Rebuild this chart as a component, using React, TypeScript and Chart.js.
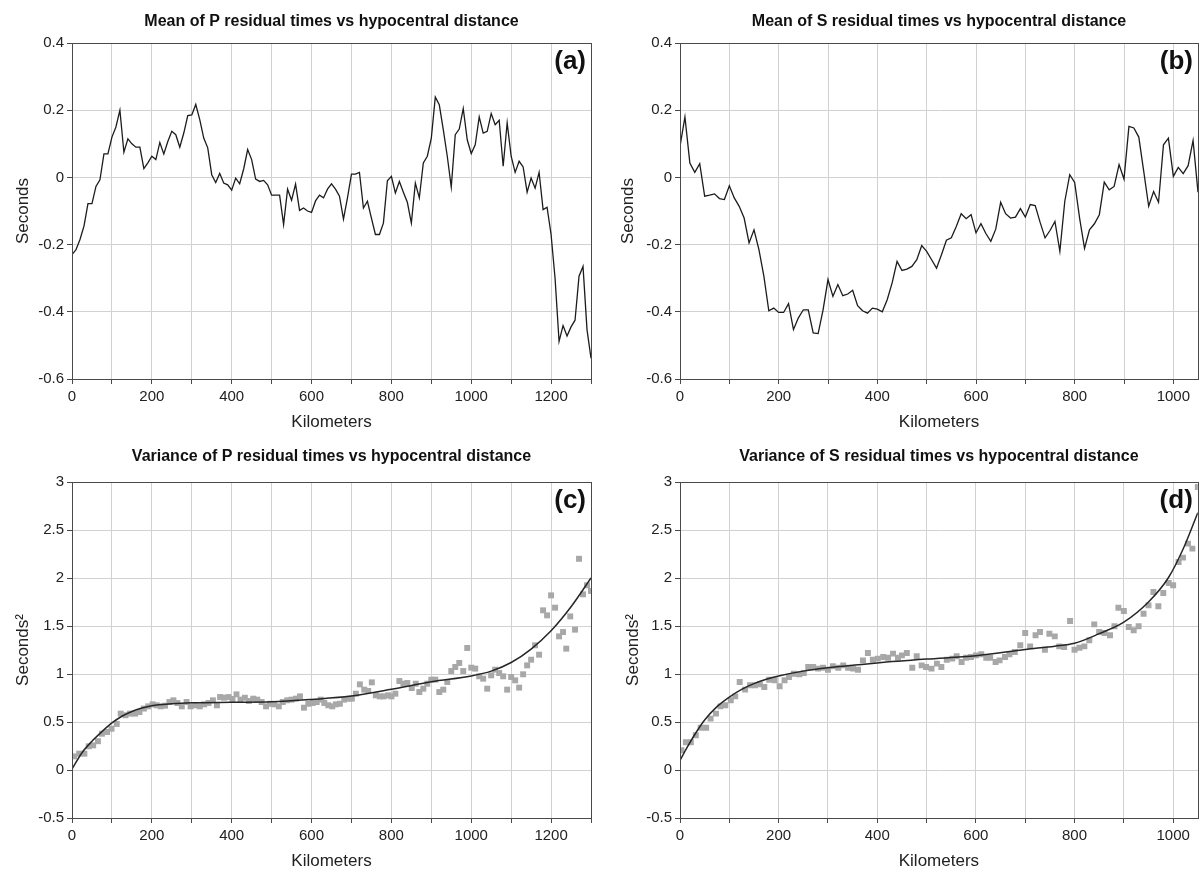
import React, { useEffect, useRef } from 'react';
import { Chart, registerables } from 'chart.js';

Chart.register(...registerables);

const FONT = '"Liberation Sans", Arial, Helvetica, sans-serif';
Chart.defaults.font.family = FONT;

// ---------- (a) Mean of P residual times ----------
const P_MEAN_KM = [0,10,20,30,40,50,60,70,80,90,100,110,120,130,140,150,160,170,180,190,200,210,220,230,240,250,260,270,280,290,300,310,320,330,340,350,360,370,380,390,400,410,420,430,440,450,460,470,480,490,500,510,520,530,540,550,560,570,580,590,600,610,620,630,640,650,660,670,680,690,700,710,720,730,740,750,760,770,780,790,800,810,820,830,840,850,860,870,880,890,900,910,920,930,940,950,960,970,980,990,1000,1010,1020,1030,1040,1050,1060,1070,1080,1090,1100,1110,1120,1130,1140,1150,1160,1170,1180,1190,1200,1210,1220,1230,1240,1250,1260,1270,1280,1290,1300];
const P_MEAN_S = [
  -0.23,-0.215,-0.185,-0.145,-0.078,-0.078,-0.027,-0.007,0.07,0.07,
  0.12,0.15,0.2,0.075,0.115,0.1,0.09,0.09,0.026,0.043,
  0.063,0.053,0.104,0.07,0.107,0.137,0.127,0.09,0.132,0.184,
  0.186,0.217,0.172,0.117,0.088,0.008,-0.015,0.012,-0.017,-0.022,
  -0.038,-0.002,-0.019,0.025,0.083,0.053,-0.005,-0.012,-0.009,-0.022,
  -0.053,-0.053,-0.053,-0.14,-0.035,-0.068,-0.02,-0.098,-0.091,-0.1,
  -0.104,-0.07,-0.053,-0.061,-0.035,-0.019,-0.035,-0.056,-0.124,-0.061,
  0.01,0.01,0.015,-0.091,-0.071,-0.121,-0.17,-0.17,-0.136,-0.01,
  0.003,-0.046,-0.012,-0.044,-0.074,-0.136,-0.017,-0.061,0.043,0.063,
  0.117,0.239,0.216,0.142,0.063,-0.029,0.127,0.144,0.205,0.112,
  0.071,0.097,0.18,0.132,0.137,0.19,0.157,0.17,0.033,0.162,
  0.063,0.015,0.048,0.031,-0.044,-0.002,-0.032,0.015,-0.096,-0.089,
  -0.17,-0.3,-0.488,-0.441,-0.472,-0.445,-0.425,-0.294,-0.265,-0.453,
  -0.538
];

// ---------- (b) Mean of S residual times ----------
const S_MEAN_KM = [0,10,20,30,40,50,60,70,80,90,100,110,120,130,140,150,160,170,180,190,200,210,220,230,240,250,260,270,280,290,300,310,320,330,340,350,360,370,380,390,400,410,420,430,440,450,460,470,480,490,500,510,520,530,540,550,560,570,580,590,600,610,620,630,640,650,660,670,680,690,700,710,720,730,740,750,760,770,780,790,800,810,820,830,840,850,860,870,880,890,900,910,920,930,940,950,960,970,980,990,1000,1010,1020,1030,1040,1050];
const S_MEAN_S = [
  0.092,0.18,0.043,0.015,0.041,-0.056,-0.053,-0.049,-0.063,-0.066,
  -0.025,-0.061,-0.086,-0.121,-0.195,-0.156,-0.215,-0.294,-0.397,-0.389,
  -0.402,-0.402,-0.376,-0.453,-0.418,-0.394,-0.394,-0.463,-0.465,-0.394,
  -0.304,-0.354,-0.319,-0.352,-0.347,-0.336,-0.382,-0.397,-0.404,-0.389,
  -0.392,-0.4,-0.364,-0.314,-0.25,-0.277,-0.273,-0.265,-0.245,-0.203,
  -0.22,-0.245,-0.27,-0.23,-0.187,-0.18,-0.146,-0.108,-0.123,-0.111,
  -0.165,-0.138,-0.167,-0.19,-0.154,-0.074,-0.108,-0.121,-0.118,-0.093,
  -0.118,-0.081,-0.084,-0.134,-0.18,-0.158,-0.131,-0.22,-0.071,0.008,
  -0.015,-0.121,-0.211,-0.156,-0.138,-0.111,-0.014,-0.037,-0.027,0.038,
  -0.005,0.152,0.147,0.12,0.018,-0.086,-0.042,-0.074,0.097,0.117,
  0.003,0.03,0.011,0.035,0.11,-0.044
];

// ---------- (c) Variance of P residual times ----------
const P_VAR_KM = [5,18,31,42,53,65,75,88,99,112,122,134,145,158,169,180,191,202,212,222,233,244,254,264,275,287,297,309,320,331,342,353,363,371,381,392,402,412,422,433,443,454,464,475,486,496,507,518,528,539,550,561,
  571,581,592,603,613,623,632,642,652,661,671,682,692,701,711,721,732,742,751,761,771,781,792,800,810,820,830,840,851,861,870,880,890,900,910,920,930,940,950,960,970,980,990,1000,1010,1020,1030,1040,1050,1060,1070,1080,1090,1100,1110,1120,1130,1140,1150,1160,1170,1180,1190,1200,1210,1220,1230,1238,1248,1260,1270,1280,1290,1300];
const P_VAR_S2 = [0.142,0.17,0.17,0.247,0.257,0.3,0.378,0.396,0.43,0.48,0.587,0.57,0.587,0.587,0.604,0.64,0.663,0.684,0.674,0.663,0.67,0.708,0.726,0.698,0.663,0.708,0.663,0.674,0.663,0.684,0.698,0.726,0.674,0.76,0.753,0.76,0.74,0.788,0.733,0.753,0.719,0.743,0.733,0.708,0.663,0.69,0.684,0.663,0.708,0.726,0.733,0.743,
  0.767,0.649,0.69,0.698,0.708,0.733,0.698,0.674,0.663,0.684,0.69,0.733,0.743,0.743,0.795,0.892,0.837,0.823,0.913,0.778,0.767,0.767,0.778,0.767,0.795,0.927,0.899,0.906,0.854,0.899,0.812,0.847,0.899,0.941,0.941,0.812,0.837,0.917,1.031,1.073,1.115,1.031,1.271,1.066,1.056,0.976,0.951,0.847,0.986,1.045,1.01,0.976,0.837,0.969,0.934,0.858,0.997,1.09,1.149,1.299,1.201,1.663,1.611,1.819,1.691,1.392,1.437,1.264,1.6,1.462,2.2,1.83,1.924,1.865];
const P_FIT_KM = [0,25,50,75,100,125,150,175,200,250,300,400,500,600,700,800,900,1000,1050,1100,1150,1200,1250,1300];
const P_FIT_S2 = [0.01,0.18,0.3,0.4,0.49,0.56,0.61,0.645,0.67,0.69,0.7,0.705,0.71,0.735,0.77,0.84,0.92,0.98,1.03,1.12,1.26,1.45,1.7,2.0];

// ---------- (d) Variance of S residual times ----------
const S_VAR_KM = [3,12,22,32,42,53,62,73,82,92,103,112,121,132,142,152,162,171,181,192,202,212,221,231,242,251,260,270,280,290,300,310,321,331,341,351,361,371,381,391,401,412,422,432,442,
  450,460,471,480,490,499,510,521,530,541,552,561,571,580,590,600,611,621,629,640,648,659,668,679,690,700,710,721,730,740,749,760,769,779,791,800,810,820,830,840,850,861,872,881,889,900,910,920,930,940,950,960,970,980,991,1000,1011,1020,1030,1039,1050];
const S_VAR_S2 = [0.205,0.29,0.29,0.361,0.441,0.441,0.535,0.587,0.663,0.674,0.726,0.767,0.917,0.837,0.882,0.882,0.892,0.865,0.941,0.934,0.872,0.934,0.969,1.003,0.997,1.01,1.073,1.073,1.056,1.066,1.045,1.08,1.066,1.09,1.066,1.056,1.045,1.142,1.219,1.149,1.16,1.177,1.17,1.212,1.17,
  1.194,1.219,1.066,1.184,1.09,1.073,1.056,1.108,1.073,1.149,1.16,1.184,1.125,1.17,1.177,1.194,1.205,1.17,1.17,1.125,1.142,1.177,1.205,1.229,1.299,1.427,1.288,1.403,1.437,1.253,1.42,1.392,1.288,1.281,1.552,1.253,1.274,1.288,1.351,1.517,1.437,1.427,1.403,1.497,1.691,1.656,1.49,1.455,1.497,1.628,1.715,1.854,1.705,1.844,1.948,1.924,2.167,2.212,2.358,2.306,2.948];
const S_FIT_KM = [0,15,30,50,75,100,125,150,175,200,250,300,400,500,600,700,760,800,850,900,950,990,1020,1050];
const S_FIT_S2 = [0.1,0.24,0.37,0.52,0.66,0.76,0.84,0.9,0.945,0.98,1.03,1.065,1.115,1.155,1.19,1.255,1.29,1.32,1.42,1.54,1.75,2.0,2.3,2.68];

const pts = (xs: number[], ys: number[]) => xs.map((x, i) => ({ x, y: ys[i] }));

const AXIS = '#4a4a4a';
const GRID = '#d2d2d2';

function framePlugin() {
  return {
    id: 'frame',
    afterDraw(chart: any) {
      const { ctx, chartArea: a } = chart;
      ctx.save();
      ctx.strokeStyle = AXIS;
      ctx.lineWidth = 1;
      ctx.strokeRect(Math.round(a.left) + 0.5, Math.round(a.top) + 0.5, Math.round(a.right - a.left), Math.round(a.bottom - a.top));
      ctx.restore();
    },
  };
}

function labelPlugin(text: string) {
  return {
    id: 'panelLabel',
    afterDraw(chart: any) {
      const { ctx, chartArea: a } = chart;
      ctx.save();
      ctx.font = `bold 26px ${FONT}`;
      ctx.fillStyle = '#111';
      ctx.textAlign = 'right';
      ctx.textBaseline = 'middle';
      ctx.fillText(text, a.right - 5, a.top + 19);
      ctx.restore();
    },
  };
}

type PanelSpec = {
  title: string;
  label: string;
  xMax: number;
  yMin: number;
  yMax: number;
  yStep: number;
  yTitle: string;
  yTitlePad: number;
  yAxisW: number;
  xAxisH: number;
  xTitlePadBottom: number;
  padRight: number;
  titleTop: number;
  titleBottom: number;
  datasets: any[];
};

function makeConfig(p: PanelSpec): any {
  return {
    type: 'line',
    data: { datasets: p.datasets },
    options: {
      responsive: false,
      animation: false,
      events: [],
      layout: { padding: { left: 0, top: 0, right: p.padRight, bottom: 0 } },
      plugins: {
        legend: { display: false },
        tooltip: { enabled: false },
        title: {
          display: true,
          text: p.title,
          fullSize: false,
          color: '#111',
          font: { family: FONT, size: 16, weight: 'bold' },
          padding: { top: p.titleTop, bottom: p.titleBottom },
        },
      },
      scales: {
        x: {
          type: 'linear',
          min: 0,
          max: p.xMax,
          afterFit: (s: any) => { s.height = p.xAxisH; },
          ticks: {
            stepSize: 100,
            autoSkip: false,
            maxRotation: 0,
            minRotation: 0,
            includeBounds: false,
            padding: 4,
            color: '#222',
            font: { family: FONT, size: 15 },
            callback: (v: any) => (Math.round(v) % 200 === 0 ? String(Math.round(v)) : ''),
          },
          grid: { color: GRID, lineWidth: 1, tickColor: AXIS, tickLength: 5 },
          border: { color: AXIS, width: 1 },
          title: {
            display: true,
            text: 'Kilometers',
            color: '#222',
            font: { family: FONT, size: 17 },
            padding: { top: 4, bottom: p.xTitlePadBottom },
          },
        },
        y: {
          type: 'linear',
          min: p.yMin,
          max: p.yMax,
          afterFit: (s: any) => { s.width = p.yAxisW; },
          ticks: {
            stepSize: p.yStep,
            padding: 3,
            color: '#222',
            font: { family: FONT, size: 15 },
            callback: (v: any) => String(Math.round(v * 10) / 10),
          },
          grid: { color: GRID, lineWidth: 1, tickColor: AXIS, tickLength: 5 },
          border: { color: AXIS, width: 1 },
          title: {
            display: true,
            text: p.yTitle,
            color: '#222',
            font: { family: FONT, size: 17 },
            padding: { top: p.yTitlePad, bottom: 0 },
          },
        },
      },
    },
    plugins: [framePlugin(), labelPlugin(p.label)],
  };
}

function Panel({ left, top, width, height, spec }: { left: number; top: number; width: number; height: number; spec: PanelSpec }) {
  const ref = useRef<HTMLCanvasElement | null>(null);
  useEffect(() => {
    if (!ref.current) return;
    const chart = new Chart(ref.current, makeConfig(spec));
    return () => chart.destroy();
  }, []);
  return (
    <canvas
      ref={ref}
      width={width}
      height={height}
      style={{ position: 'absolute', left, top, width, height }}
    />
  );
}

const meanLine = (xs: number[], ys: number[]) => ({
  data: pts(xs, ys),
  borderColor: '#1c1c1c',
  borderWidth: 1.3,
  pointRadius: 0,
  tension: 0,
  fill: false,
});

const scatterSet = (xs: number[], ys: number[]) => ({
  data: pts(xs, ys),
  showLine: false,
  pointStyle: 'rect',
  pointRadius: 4.2,
  pointBackgroundColor: '#a8a8a8',
  pointBorderWidth: 0,
  borderColor: '#a8a8a8',
  order: 2,
});

const fitLine = (xs: number[], ys: number[]) => ({
  data: pts(xs, ys),
  borderColor: '#262626',
  borderWidth: 1.5,
  pointRadius: 0,
  cubicInterpolationMode: 'monotone',
  fill: false,
  order: 1,
});

const SPEC_A: PanelSpec = {
  title: 'Mean of P residual times vs hypocentral distance',
  label: '(a)', xMax: 1300, yMin: -0.6, yMax: 0.4, yStep: 0.2,
  yTitle: 'Seconds', yTitlePad: 12.8, yAxisW: 72, xAxisH: 57, xTitlePadBottom: 3.8,
  padRight: 9, titleTop: 12.4, titleBottom: 11.4,
  datasets: [meanLine(P_MEAN_KM, P_MEAN_S)],
};
const SPEC_B: PanelSpec = {
  title: 'Mean of S residual times vs hypocentral distance',
  label: '(b)', xMax: 1050, yMin: -0.6, yMax: 0.4, yStep: 0.2,
  yTitle: 'Seconds', yTitlePad: 17.8, yAxisW: 80, xAxisH: 57, xTitlePadBottom: 3.8,
  padRight: 4, titleTop: 12.4, titleBottom: 11.4,
  datasets: [meanLine(S_MEAN_KM, S_MEAN_S)],
};
const SPEC_C: PanelSpec = {
  title: 'Variance of P residual times vs hypocentral distance',
  label: '(c)', xMax: 1300, yMin: -0.5, yMax: 3, yStep: 0.5,
  yTitle: 'Seconds²', yTitlePad: 13.3, yAxisW: 72, xAxisH: 55, xTitlePadBottom: 1.8,
  padRight: 9, titleTop: 11, titleBottom: 15.8,
  datasets: [fitLine(P_FIT_KM, P_FIT_S2), scatterSet(P_VAR_KM, P_VAR_S2)],
};
const SPEC_D: PanelSpec = {
  title: 'Variance of S residual times vs hypocentral distance',
  label: '(d)', xMax: 1050, yMin: -0.5, yMax: 3, yStep: 0.5,
  yTitle: 'Seconds²', yTitlePad: 22.8, yAxisW: 80, xAxisH: 55, xTitlePadBottom: 1.8,
  padRight: 4, titleTop: 11, titleBottom: 15.8,
  datasets: [fitLine(S_FIT_KM, S_FIT_S2), scatterSet(S_VAR_KM, S_VAR_S2)],
};

export default function App() {
  return (
    <div style={{ position: 'absolute', left: 0, top: 0, width: 1202, height: 873, background: '#fff', overflow: 'hidden' }}>
      <Panel left={0} top={0} width={600} height={436} spec={SPEC_A} />
      <Panel left={600} top={0} width={602} height={436} spec={SPEC_B} />
      <Panel left={0} top={436} width={600} height={437} spec={SPEC_C} />
      <Panel left={600} top={436} width={602} height={437} spec={SPEC_D} />
    </div>
  );
}
